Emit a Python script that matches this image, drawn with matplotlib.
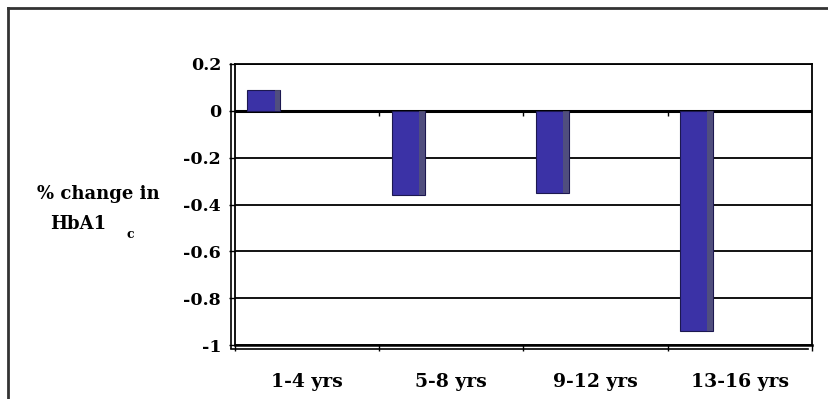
import numpy as np
import matplotlib
matplotlib.use('Agg')
import matplotlib.pyplot as plt
from matplotlib.transforms import offset_copy

# HbA1c change by age band
age_groups = ['1-4 yrs', '5-8 yrs', '9-12 yrs', '13-16 yrs']
pct_change = [0.09, -0.36, -0.35, -0.94]
y_ticks = [0.2, 0, -0.2, -0.4, -0.6, -0.8, -1]
y_tick_labels = ['0.2', '0', '-0.2', '-0.4', '-0.6', '-0.8', '-1']

bar_color = '#3b32a6'
edge_color = '#1c1850'
shade_color = '#5a5a6e'
font = 'DejaVu Serif'

fig = plt.figure(figsize=(8.29, 3.99), dpi=100)
ax = fig.add_axes([235 / 829, 1 - 345 / 399, (812 - 235) / 829, (345 - 64) / 399])

x = np.arange(len(age_groups))
offset = -0.30
width = 0.23
ax.bar(x + offset, pct_change, width=width, color=bar_color,
       edgecolor=edge_color, linewidth=0.8, zorder=3)
# darker side strip for the 3-D look
ax.bar(x + offset + width / 2 - 0.02, pct_change, width=0.04,
       color=shade_color, linewidth=0, zorder=3, alpha=0.7)

ax.set_xlim(-0.5, len(age_groups) - 0.5)
ax.set_ylim(-1, 0.2)

for yv in y_ticks:
    ax.axhline(yv, color='black', linewidth=2.2 if yv == 0 else 1.3, zorder=2)

ax.set_yticks(y_ticks)
ax.set_yticklabels(y_tick_labels, fontfamily=font, fontweight='bold', fontsize=12.5)
ax.tick_params(axis='y', direction='out', length=4, width=1, pad=6)

bounds = np.arange(len(age_groups) + 1) - 0.5
ax.set_xticks(x)
ax.set_xticklabels(age_groups, fontfamily=font, fontweight='bold', fontsize=13.5)
ax.tick_params(axis='x', length=0, pad=20)
ax.set_xticks(bounds, minor=True)
ax.tick_params(axis='x', which='minor', direction='out', length=4, width=1)
ax.vlines(bounds[1:], -0.02, 0, color='black', linewidth=1, zorder=2)

for s in ax.spines.values():
    s.set_color('black')
    s.set_linewidth(1.3)
ax.spines['bottom'].set_linewidth(1.8)

# doubled wall / floor edges
wall = offset_copy(ax.transAxes, fig=fig, x=-4, y=0, units='dots')
ax.plot([0, 0], [-0.01, 1.0], color='black', linewidth=1.2, transform=wall, clip_on=False)
floor = offset_copy(ax.transAxes, fig=fig, x=-4, y=-4, units='dots')
ax.plot([0, 1], [0, 0], color='black', linewidth=1.2, transform=floor, clip_on=False)

fig.text(37 / 829, 1 - 194 / 399, '% change in', fontfamily=font, fontweight='bold',
         fontsize=13, ha='left', va='center')
fig.text(50 / 829, 1 - 224 / 399, 'HbA1', fontfamily=font, fontweight='bold',
         fontsize=13, ha='left', va='center')
fig.text(127 / 829, 1 - 234 / 399, 'c', fontfamily=font, fontweight='bold',
         fontsize=9, ha='left', va='center')

# outer frame on left and top
fig.add_artist(plt.Line2D([8 / 829, 8 / 829], [0, 1 - 8 / 399], transform=fig.transFigure,
                          color='#333333', linewidth=2))
fig.add_artist(plt.Line2D([8 / 829, 1], [1 - 8 / 399, 1 - 8 / 399], transform=fig.transFigure,
                          color='#333333', linewidth=2))

fig.savefig('out.png', dpi=100)
